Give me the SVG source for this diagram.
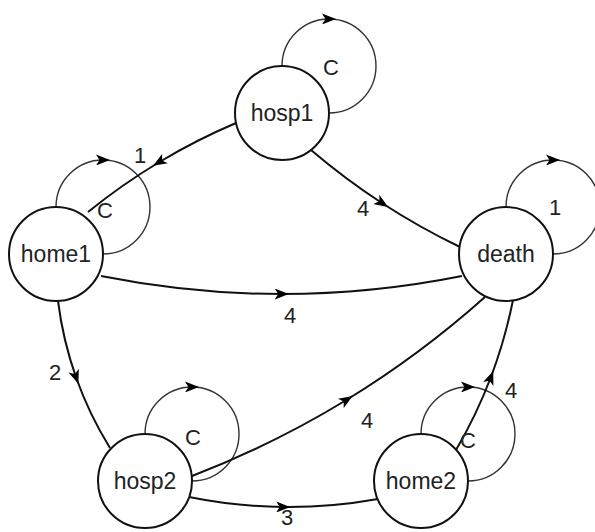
<svg xmlns="http://www.w3.org/2000/svg" width="595" height="532" viewBox="0 0 595 532">
<defs>
<marker id="arr" viewBox="0 0 14 11" refX="7" refY="5.5" markerWidth="14" markerHeight="11" markerUnits="userSpaceOnUse" orient="auto">
<path d="M0,0 L14,5.5 L0,11 L3.5,5.5 z" fill="#000"/>
</marker>
</defs>
<style>
.node circle{fill:#fff;stroke:#111;stroke-width:2}
.node text{font-family:"Liberation Sans",Arial,sans-serif;font-size:23px;fill:#222;text-anchor:middle}
.edge{fill:none;stroke:#111;stroke-width:2;marker-mid:url(#arr)}
.loop{fill:none;stroke:#333;stroke-width:1.4;marker-mid:url(#arr)}
.lbl{font-family:"Liberation Sans",Arial,sans-serif;font-size:22px;fill:#222;text-anchor:middle}
</style>
<rect width="595" height="532" fill="#fff"/>
<g id="connectors">
<path class="loop" d="M282,66 A47,47 0 0 1 329,19 A47,47 0 0 1 329,113"/>
<path class="loop" d="M56,207 A47,47 0 0 1 103,160 A47,47 0 0 1 103,254"/>
<path class="loop" d="M506,207 A47,47 0 0 1 553,160 A47,47 0 0 1 553,254"/>
<path class="loop" d="M145,434 A47,47 0 0 1 192,387 A47,47 0 0 1 192,481"/>
<path class="loop" d="M421,434 A47,47 0 0 1 468,387 A47,47 0 0 1 468,481"/>
<path class="edge" d="M236,123 Q196,140 159,162.25 Q122,184.5 88,212"/>
<path class="edge" d="M311,150 Q345,179 382.25,203.25 Q419.5,227.5 460,247"/>
<path class="edge" d="M101,276 Q191.5,294 281.75,294 Q372,294 462,276"/>
<path class="edge" d="M58,301 Q63,340.5 76,377.25 Q89,414 110,448"/>
<path class="edge" d="M192,476 Q273.5,444.5 346.75,399.75 Q420,355 485,297"/>
<path class="edge" d="M189,497 Q236,506.5 283.25,507 Q330.5,507.5 378,499"/>
<path class="edge" d="M456,450 Q476.5,415 490.75,377.5 Q505,340 513,300"/>
<text class="lbl" x="331" y="75">C</text>
<text class="lbl" x="105" y="218">C</text>
<text class="lbl" x="555" y="215">1</text>
<text class="lbl" x="193" y="445">C</text>
<text class="lbl" x="468" y="448">C</text>
<text class="lbl" x="140" y="163">1</text>
<text class="lbl" x="363" y="216">4</text>
<text class="lbl" x="290" y="323">4</text>
<text class="lbl" x="55" y="380">2</text>
<text class="lbl" x="367" y="428">4</text>
<text class="lbl" x="287" y="525">3</text>
<text class="lbl" x="511" y="398">4</text>
</g>
<g id="hosp1" class="node"><circle cx="282" cy="113" r="47"/><text x="282" y="121">hosp1</text></g>
<g id="home1" class="node"><circle cx="56" cy="254" r="47"/><text x="56" y="262">home1</text></g>
<g id="death" class="node"><circle cx="506" cy="254" r="47"/><text x="506" y="262">death</text></g>
<g id="hosp2" class="node"><circle cx="145" cy="481" r="47"/><text x="145" y="489">hosp2</text></g>
<g id="home2" class="node"><circle cx="421" cy="481" r="47"/><text x="421" y="489">home2</text></g>
</svg>
